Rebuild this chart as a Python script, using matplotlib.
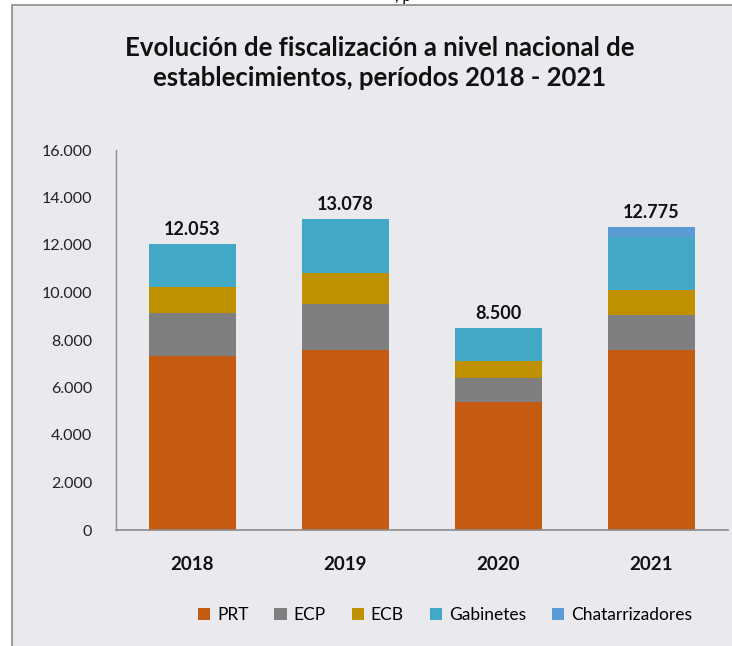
import matplotlib
matplotlib.use("Agg")
import matplotlib.pyplot as plt
from matplotlib.patches import Rectangle
from matplotlib.ticker import FuncFormatter

years = ["2018", "2019", "2020", "2021"]
prt = [7330, 7565, 5390, 7580]
ecp = [1820, 1963, 996, 1460]
ecb = [1070, 1280, 729, 1080]
gabinetes = [1833, 2270, 1385, 2230]
chatarrizadores = [0, 0, 0, 425]
totals = [12053, 13078, 8500, 12775]
series_names = ["PRT", "ECP", "ECB", "Gabinetes", "Chatarrizadores"]
colors = ["#C55A11", "#7F7F7F", "#BF9000", "#43A7C6", "#5B9BD5"]
yticks = [0, 2000, 4000, 6000, 8000, 10000, 12000, 14000, 16000]

plt.rcParams['font.family'] = ['Lato', 'DejaVu Sans']

bg = "#E9E9EE"
fig = plt.figure(figsize=(7.32, 6.46), dpi=100)
fig.patch.set_facecolor("white")
# panel background with frame
frame = Rectangle((12/732, -0.1), 1.2, (646-5)/646 + 0.1, transform=fig.transFigure,
                  facecolor=bg, edgecolor="#8C8C8C", linewidth=1.2, zorder=-10)
fig.patches.append(frame)
fig.text(395/732, 1.004, ", p", fontsize=11, color="black", ha="left", va="center")

ax = fig.add_axes([115.7/732, (646-530)/646, (727.7-115.7)/732, 380/646])
ax.set_zorder(1)
ax.patch.set_alpha(0)

x = list(range(len(years)))
bottoms = [0]*len(years)
data = [prt, ecp, ecb, gabinetes, chatarrizadores]
for name, vals, c in zip(series_names, data, colors):
    ax.bar(x, vals, width=0.57, bottom=bottoms, color=c, label=name,
           edgecolor="none", zorder=2)
    bottoms = [b + v for b, v in zip(bottoms, vals)]

for xi, t, top in zip(x, totals, bottoms):
    ax.text(xi, top + 250, f"{t:,}".replace(",", "."), ha="center", va="bottom",
            fontsize=13, fontweight="bold", color="#111111")

ax.set_xlim(-0.5, 3.5)
ax.set_ylim(0, 16000)
ax.set_yticks(yticks)
ax.yaxis.set_major_formatter(FuncFormatter(lambda v, p: f"{int(v):,}".replace(",", ".")))
ax.set_xticks(x)
ax.set_xticklabels(years, fontsize=13.5, fontweight="bold")
ax.tick_params(axis="y", length=0, pad=17, labelsize=11.5, labelcolor="#222222")
ax.tick_params(axis="x", length=0, pad=19, labelcolor="#111111")
for s in ["top", "right"]:
    ax.spines[s].set_visible(False)
ax.spines["left"].set_color("#8C8C8C")
ax.spines["bottom"].set_color("#8C8C8C")
ax.spines["left"].set_linewidth(1.0)
ax.spines["bottom"].set_linewidth(1.2)

fig.text(380/732, 1 - 63/646, "Evolución de fiscalización a nivel nacional de\nestablecimientos, períodos 2018 - 2021",
         ha="center", va="center", fontsize=18.5, fontweight="bold", linespacing=1.35, color="#111111")

handles, labels = ax.get_legend_handles_labels()
leg = fig.legend(handles, labels, loc="center", bbox_to_anchor=(445/732, 1 - 615/646),
                 ncol=5, frameon=False, fontsize=12.5, handlelength=0.7, handleheight=0.7,
                 handletextpad=0.4, columnspacing=1.5)

fig.savefig("out.png", dpi=100, facecolor=fig.get_facecolor())
